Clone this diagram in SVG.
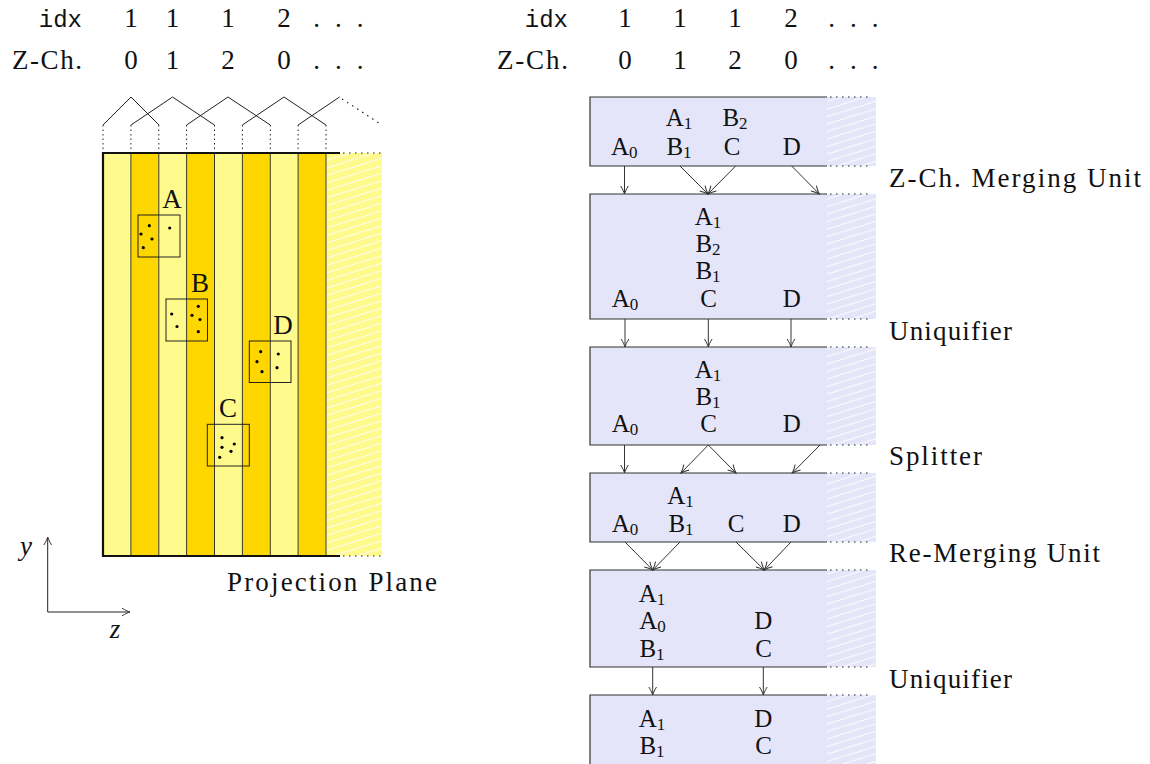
<svg xmlns="http://www.w3.org/2000/svg" width="1150" height="764" viewBox="0 0 1150 764" font-family="'Liberation Serif', 'DejaVu Serif', serif">
<style>
  text { font-family: "Liberation Serif", "DejaVu Serif", "Times New Roman", serif; font-size: 27px; fill: #111; }
  .mono { font-family: "Liberation Mono", "DejaVu Sans Mono", "Courier New", monospace; font-size: 24px; }
  .it { font-style: italic; }
  .mid { text-anchor: middle; }
  .end { text-anchor: end; }
  .lbl { font-size: 25px; }
  .sub { font-size: 17px; }
  .stripeL { fill: #FFFA8C; }
  .stripeG { fill: #FFD700; }
  .sep { stroke: #3a3a2a; stroke-width: 1; fill: none; }
  .thick { stroke: #111; stroke-width: 2.2; fill: none; }
  .thin { stroke: #222; stroke-width: 1; fill: none; }
  .dotted { stroke: #222; stroke-width: 1.2; fill: none; stroke-dasharray: 1.5 4.5; }
  .vdots { stroke: #222; stroke-width: 1; fill: none; stroke-dasharray: 1.5 3; }
  .box { fill: #E5E5FA; }
  .edge { stroke: #333; stroke-width: 1.2; fill: none; }
  .conn { stroke: #333; stroke-width: 1; fill: none; marker-end: url(#arr); }
  .dot { fill: #000; }
</style>
<defs>
  <pattern id="hatchY" patternUnits="userSpaceOnUse" width="24" height="7.5">
    <rect width="24" height="7.5" fill="#FFFA8C"/>
    <path d="M0,7.5 L24,0" stroke="#fff" stroke-width="1"/>
  </pattern>
  <pattern id="hatchB" patternUnits="userSpaceOnUse" width="24" height="7.5">
    <rect width="24" height="7.5" fill="#E5E5FA"/>
    <path d="M0,7.5 L24,0" stroke="#fff" stroke-width="1"/>
  </pattern>
  <marker id="arr" viewBox="-9 -5 10 10" refX="0" refY="0" markerWidth="10" markerHeight="10" orient="auto" markerUnits="userSpaceOnUse">
    <path d="M-8,-3.8 C-4.5,-1.6 -1.5,-0.5 0,0 C-1.5,0.5 -4.5,1.6 -8,3.8" fill="none" stroke="#333" stroke-width="1"/>
  </marker>
</defs>

<!-- Left header -->
<g id="header-left">
  <text class="mono end" x="82" y="27">idx</text>
  <text class="mid" x="131" y="27">1</text>
  <text class="mid" x="172.5" y="27">1</text>
  <text class="mid" x="228" y="27">1</text>
  <text class="mid" x="284" y="27">2</text>
  <text class="mid" x="316.7 338.3 360" y="27">...</text>
  <text class="end" x="82" y="69" textLength="70">Z-Ch.</text>
  <text class="mid" x="131" y="69">0</text>
  <text class="mid" x="172.5" y="69">1</text>
  <text class="mid" x="228" y="69">2</text>
  <text class="mid" x="284" y="69">0</text>
  <text class="mid" x="316.7 338.3 360" y="69">...</text>
</g>

<!-- Right header -->
<g id="header-right">
  <text class="mono end" x="568" y="27">idx</text>
  <text class="mid" x="625" y="27">1</text>
  <text class="mid" x="680" y="27">1</text>
  <text class="mid" x="735" y="27">1</text>
  <text class="mid" x="791" y="27">2</text>
  <text class="mid" x="831.7 853.3 875" y="27">...</text>
  <text class="end" x="568" y="69" textLength="71">Z-Ch.</text>
  <text class="mid" x="625" y="69">0</text>
  <text class="mid" x="680" y="69">1</text>
  <text class="mid" x="735" y="69">2</text>
  <text class="mid" x="791" y="69">0</text>
  <text class="mid" x="831.7 853.3 875" y="69">...</text>
</g>

<!-- Projection plane stripes -->
<g id="projection-plane">
  <rect class="stripeL" x="103" y="153" width="27.9" height="403"/>
  <rect class="stripeG" x="130.9" y="153" width="27.9" height="403"/>
  <rect class="stripeL" x="158.8" y="153" width="27.8" height="403"/>
  <rect class="stripeG" x="186.6" y="153" width="27.9" height="403"/>
  <rect class="stripeL" x="214.5" y="153" width="27.9" height="403"/>
  <rect class="stripeG" x="242.4" y="153" width="27.9" height="403"/>
  <rect class="stripeL" x="270.3" y="153" width="27.8" height="403"/>
  <rect class="stripeG" x="298.1" y="153" width="27.9" height="403"/>
  <rect x="326" y="153" width="56" height="403" fill="url(#hatchY)"/>
  <path class="sep" d="M130.9,153V556 M158.8,153V556 M186.6,153V556 M214.5,153V556 M242.4,153V556 M270.3,153V556 M298.1,153V556 M326,153V556"/>
  <path class="thick" d="M340,153 H103 V556 H340"/>
  <path class="dotted" d="M343,153 H382 M343,556 H382"/>
  <text x="227" y="591" textLength="210">Projection Plane</text>
</g>

<!-- Z-chunk zigzag -->
<g id="zchunks">
  <path class="thin" d="M103,125 L131,97 L159,125 M131,125 L172.5,97 L214.5,125 M186.6,125 L228,97 L270.3,125 M242.4,125 L284,97 L326,125 M298.1,125 L339.5,97"/>
  <path class="dotted" d="M342,99 L382,125"/>
  <path class="vdots" d="M103,125V153 M130.9,125V153 M158.8,125V153 M186.6,125V153 M214.5,125V153 M242.4,125V153 M270.3,125V153 M298.1,125V153 M326,125V153"/>
</g>

<!-- Particle boxes -->
<g id="particle-A">
  <rect class="thin" x="138" y="215" width="42" height="42"/>
  <text class="mid" x="172" y="208">A</text>
  <circle class="dot" cx="149.3" cy="225.7" r="1.6"/>
  <circle class="dot" cx="141" cy="234" r="1.6"/>
  <circle class="dot" cx="152" cy="239" r="1.6"/>
  <circle class="dot" cx="143.3" cy="247.7" r="1.6"/>
  <circle class="dot" cx="169.7" cy="228" r="1.6"/>
</g>
<g id="particle-B">
  <rect class="thin" x="166" y="299" width="41.5" height="42"/>
  <text class="mid" x="200" y="292">B</text>
  <circle class="dot" cx="171.7" cy="314" r="1.6"/>
  <circle class="dot" cx="177" cy="326.5" r="1.6"/>
  <circle class="dot" cx="198.3" cy="306.3" r="1.6"/>
  <circle class="dot" cx="192" cy="315.3" r="1.6"/>
  <circle class="dot" cx="200" cy="319.5" r="1.6"/>
  <circle class="dot" cx="198.3" cy="331.7" r="1.6"/>
</g>
<g id="particle-D">
  <rect class="thin" x="249.3" y="341" width="41.7" height="41.5"/>
  <text class="mid" x="283" y="334">D</text>
  <circle class="dot" cx="260.7" cy="351.7" r="1.6"/>
  <circle class="dot" cx="257" cy="361.7" r="1.6"/>
  <circle class="dot" cx="262" cy="371.7" r="1.6"/>
  <circle class="dot" cx="278.3" cy="354" r="1.6"/>
  <circle class="dot" cx="277" cy="367.7" r="1.6"/>
</g>
<g id="particle-C">
  <rect class="thin" x="207.3" y="424.3" width="42" height="41.7"/>
  <text class="mid" x="228" y="417">C</text>
  <circle class="dot" cx="222" cy="437.7" r="1.6"/>
  <circle class="dot" cx="222" cy="447.3" r="1.6"/>
  <circle class="dot" cx="234.3" cy="444" r="1.6"/>
  <circle class="dot" cx="231" cy="451.3" r="1.6"/>
  <circle class="dot" cx="219.7" cy="457.3" r="1.6"/>
</g>

<!-- Axes -->
<g id="axes">
  <path class="thin" d="M47.7,612 V537" marker-end="url(#arr)"/>
  <path class="thin" d="M47.7,612 H130" marker-end="url(#arr)"/>
  <text class="it mid" x="26" y="555">y</text>
  <text class="it mid" x="115" y="638">z</text>
</g>

<!-- Stage boxes -->
<g id="stage-1">
  <rect class="box" x="590" y="97" width="237" height="69"/>
  <rect x="827" y="97" width="49" height="69" fill="url(#hatchB)"/>
  <path class="edge" d="M827,97 H590 V166 H827"/>
  <path class="dotted" d="M830,97 H872 M830,166 H872"/>
  <text class="mid lbl" x="679" y="126">A<tspan class="sub" dy="3">1</tspan></text>
  <text class="mid lbl" x="735" y="126">B<tspan class="sub" dy="3">2</tspan></text>
  <text class="mid lbl" x="624.3" y="155">A<tspan class="sub" dy="3">0</tspan></text>
  <text class="mid lbl" x="679" y="155">B<tspan class="sub" dy="3">1</tspan></text>
  <text class="mid lbl" x="732" y="155">C</text>
  <text class="mid lbl" x="791.7" y="155">D</text>
</g>
<g id="stage-2">
  <rect class="box" x="590" y="194" width="237" height="125"/>
  <rect x="827" y="194" width="49" height="125" fill="url(#hatchB)"/>
  <path class="edge" d="M827,194 H590 V319 H827"/>
  <path class="dotted" d="M830,194 H872 M830,319 H872"/>
  <text class="mid lbl" x="708" y="225">A<tspan class="sub" dy="3">1</tspan></text>
  <text class="mid lbl" x="708" y="251.5">B<tspan class="sub" dy="3">2</tspan></text>
  <text class="mid lbl" x="708" y="278.5">B<tspan class="sub" dy="3">1</tspan></text>
  <text class="mid lbl" x="625" y="306.5">A<tspan class="sub" dy="3">0</tspan></text>
  <text class="mid lbl" x="708.5" y="306.5">C</text>
  <text class="mid lbl" x="791.7" y="306.5">D</text>
</g>
<g id="stage-3">
  <rect class="box" x="590" y="347" width="237" height="98"/>
  <rect x="827" y="347" width="49" height="98" fill="url(#hatchB)"/>
  <path class="edge" d="M827,347 H590 V445 H827"/>
  <path class="dotted" d="M830,347 H872 M830,445 H872"/>
  <text class="mid lbl" x="708" y="378.3">A<tspan class="sub" dy="3">1</tspan></text>
  <text class="mid lbl" x="708" y="405">B<tspan class="sub" dy="3">1</tspan></text>
  <text class="mid lbl" x="625" y="431.7">A<tspan class="sub" dy="3">0</tspan></text>
  <text class="mid lbl" x="708.5" y="431.7">C</text>
  <text class="mid lbl" x="791.7" y="431.7">D</text>
</g>
<g id="stage-4">
  <rect class="box" x="590" y="473" width="237" height="69"/>
  <rect x="827" y="473" width="49" height="69" fill="url(#hatchB)"/>
  <path class="edge" d="M827,473 H590 V542 H827"/>
  <path class="dotted" d="M830,473 H872 M830,542 H872"/>
  <text class="mid lbl" x="680.5" y="504">A<tspan class="sub" dy="3">1</tspan></text>
  <text class="mid lbl" x="625" y="531.7">A<tspan class="sub" dy="3">0</tspan></text>
  <text class="mid lbl" x="681" y="531.7">B<tspan class="sub" dy="3">1</tspan></text>
  <text class="mid lbl" x="736" y="531.7">C</text>
  <text class="mid lbl" x="791.7" y="531.7">D</text>
</g>
<g id="stage-5">
  <rect class="box" x="590" y="570" width="237" height="97"/>
  <rect x="827" y="570" width="49" height="97" fill="url(#hatchB)"/>
  <path class="edge" d="M827,570 H590 V667 H827"/>
  <path class="dotted" d="M830,570 H872 M830,667 H872"/>
  <text class="mid lbl" x="652" y="602.3">A<tspan class="sub" dy="3">1</tspan></text>
  <text class="mid lbl" x="652.5" y="629.3">A<tspan class="sub" dy="3">0</tspan></text>
  <text class="mid lbl" x="652" y="656.7">B<tspan class="sub" dy="3">1</tspan></text>
  <text class="mid lbl" x="763.3" y="629.3">D</text>
  <text class="mid lbl" x="763.7" y="656.7">C</text>
</g>
<g id="stage-6">
  <rect class="box" x="590" y="695" width="237" height="75"/>
  <rect x="827" y="695" width="49" height="75" fill="url(#hatchB)"/>
  <path class="edge" d="M827,695 H590 V770"/>
  <path class="dotted" d="M830,695 H872"/>
  <text class="mid lbl" x="652" y="726.7">A<tspan class="sub" dy="3">1</tspan></text>
  <text class="mid lbl" x="652" y="754.3">B<tspan class="sub" dy="3">1</tspan></text>
  <text class="mid lbl" x="763.3" y="726.7">D</text>
  <text class="mid lbl" x="763.7" y="754.3">C</text>
</g>

<!-- Stage labels -->
<g id="stage-labels">
  <text x="889" y="187" textLength="252">Z-Ch. Merging Unit</text>
  <text x="889" y="340" textLength="123">Uniquifier</text>
  <text x="889" y="465" textLength="93">Splitter</text>
  <text x="889" y="562" textLength="211">Re-Merging Unit</text>
  <text x="889" y="688" textLength="123">Uniquifier</text>
</g>

<!-- Connectors -->
<g id="connectors">
  <path class="conn" d="M624.5,166 L624.5,194"/>
  <path class="conn" d="M680,166 L708,194"/>
  <path class="conn" d="M735.7,166 L708,194"/>
  <path class="conn" d="M791.7,166 L819.3,194"/>

  <path class="conn" d="M625,319 L625,347"/>
  <path class="conn" d="M708.3,319 L708.3,347"/>
  <path class="conn" d="M791,319 L791,347"/>

  <path class="conn" d="M624.5,445 L624.5,473"/>
  <path class="conn" d="M708.3,445 L681,473"/>
  <path class="conn" d="M708.3,445 L736,473"/>
  <path class="conn" d="M820,445 L792.3,473"/>

  <path class="conn" d="M625,542 L652.7,570"/>
  <path class="conn" d="M680,542 L652.7,570"/>
  <path class="conn" d="M736,542 L764.3,570"/>
  <path class="conn" d="M791,542 L764.3,570"/>

  <path class="conn" d="M652.7,667 L652.7,695"/>
  <path class="conn" d="M763.3,667 L763.3,695"/>
</g>
</svg>
